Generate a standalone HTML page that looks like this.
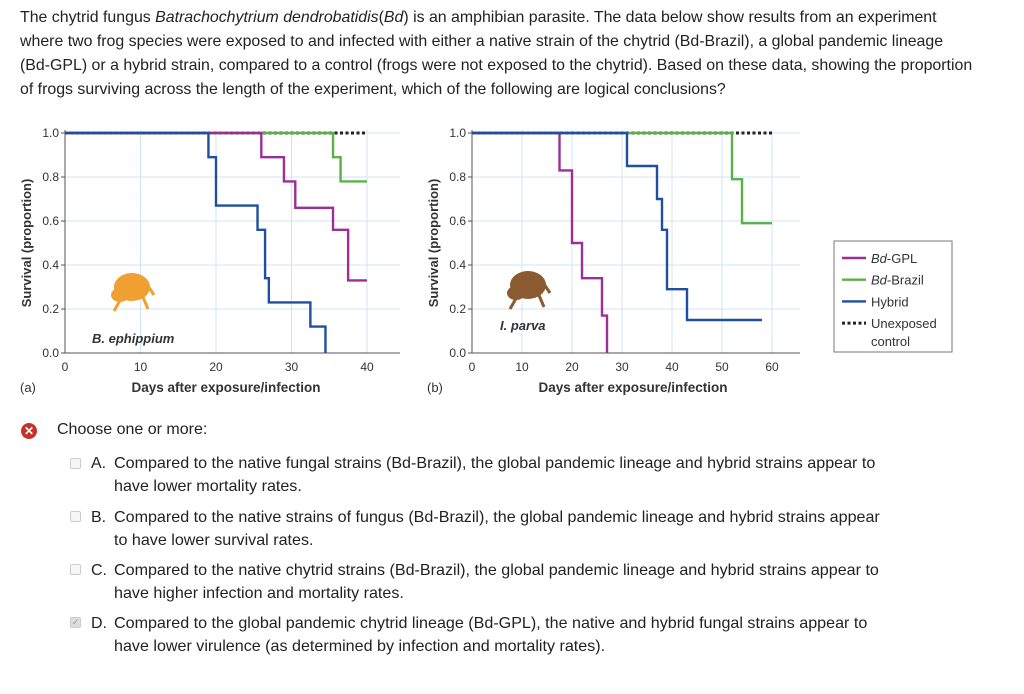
<!DOCTYPE html>
<html><head><meta charset="utf-8">
<style>
body{margin:0;width:1024px;height:694px;background:#fff;overflow:hidden;font-family:"Liberation Sans",sans-serif;color:#222;position:relative}
.t{position:absolute;left:20px;white-space:nowrap;font-size:15.9px;line-height:24px;color:#222}
.opt{position:absolute;left:114px;white-space:nowrap;font-size:16.1px;line-height:23px;color:#222}
.let{position:absolute;left:91px;font-size:16px;line-height:23px}
.cb{position:absolute;left:70px;width:9px;height:9px;border:1px solid #ccc;border-radius:2px;background:#f6f6f6}
svg text{font-family:"Liberation Sans",sans-serif}
</style></head><body>
<div>
<div class="t" style="top:6px">The chytrid fungus <i>Batrachochytrium dendrobatidis</i>(<i>Bd</i>) is an amphibian parasite. The data below show results from an experiment</div>
<div class="t" style="top:30px">where two frog species were exposed to and infected with either a native strain of the chytrid (Bd-Brazil), a global pandemic lineage</div>
<div class="t" style="top:54px">(Bd-GPL) or a hybrid strain, compared to a control (frogs were not exposed to the chytrid). Based on these data, showing the proportion</div>
<div class="t" style="top:78px">of frogs surviving across the length of the experiment, which of the following are logical conclusions?</div>
</div>
<svg id="chart" width="1024" height="410" style="position:absolute;left:0;top:0"></svg>
<div style="position:absolute;left:21px;top:423px;width:16px;height:16px;border-radius:50%;background:#c8312b;color:#fff;font-size:12px;line-height:16px;text-align:center;font-weight:bold">✕</div>
<div style="position:absolute;left:57px;top:421px;font-size:16px;color:#222">Choose one or more:</div>
<div class="cb" style="top:458px"></div>
<div class="let" style="top:452px">A.</div>
<div class="opt" style="top:452px">Compared to the native fungal strains (Bd-Brazil), the global pandemic lineage and hybrid strains appear to<br>have lower mortality rates.</div>
<div class="cb" style="top:511px"></div>
<div class="let" style="top:506px">B.</div>
<div class="opt" style="top:506px">Compared to the native strains of fungus (Bd-Brazil), the global pandemic lineage and hybrid strains appear<br>to have lower survival rates.</div>
<div class="cb" style="top:564px"></div>
<div class="let" style="top:559px">C.</div>
<div class="opt" style="top:559px">Compared to the native chytrid strains (Bd-Brazil), the global pandemic lineage and hybrid strains appear to<br>have higher infection and mortality rates.</div>
<div class="cb" style="top:617px;background:#ddd;color:#999;font-size:9px;line-height:9px;text-align:center">✓</div>
<div class="let" style="top:612px">D.</div>
<div class="opt" style="top:612px">Compared to the global pandemic chytrid lineage (Bd-GPL), the native and hybrid fungal strains appear to<br>have lower virulence (as determined by infection and mortality rates).</div>
<script>
// Panel (a) B. ephippium
const aGPLx=[0,26,29,30.5,35.5,37.5,40];
const aGPLy=[1,0.89,0.78,0.66,0.56,0.33,0.33];
const aBrazilx=[0,35.5,36.5,40];
const aBrazily=[1,0.89,0.78,0.78];
const aHybridx=[0,19,20,25.5,26.5,27,32.5,34.5];
const aHybridy=[1,0.89,0.67,0.56,0.34,0.23,0.12,0];
const aControlx=[0,40];
const aControly=[1,1];
const aXTicks=[0,10,20,30,40];
// Panel (b) I. parva
const bGPLx=[0,17.5,20,22,26,27];
const bGPLy=[1,0.83,0.5,0.34,0.17,0];
const bBrazilx=[0,52,54,60];
const bBrazily=[1,0.79,0.59,0.59];
const bHybridx=[0,31,37,38,39,43,58];
const bHybridy=[1,0.85,0.7,0.56,0.29,0.15,0.15];
const bControlx=[0,60];
const bControly=[1,1];
const bXTicks=[0,10,20,30,40,50,60];
const yTicks=[0,0.2,0.4,0.6,0.8,1.0];

const NS="http://www.w3.org/2000/svg";
const svg=document.getElementById('chart');
function mk(tag,attrs,parent){const e=document.createElementNS(NS,tag);for(const k in attrs)e.setAttribute(k,attrs[k]);(parent||svg).appendChild(e);return e;}
const COL={gpl:'#9b2f96',brazil:'#5bb04a',hybrid:'#1f4fa0',control:'#222'};

function panel(p){
  const g=mk('g',{});
  
  
  const X=v=>p.x0+v*p.sx, Y=v=>353-v*220;
  yTicks.forEach(t=>{if(t>0){const l=mk('line',{x1:p.x0,x2:p.right,y1:Y(t),y2:Y(t),stroke:'#cfe6f5','stroke-width':1},g);}});
  p.xt.forEach(t=>{if(t>0){const l=mk('line',{x1:X(t),x2:X(t),y1:130,y2:353,stroke:'#cfe6f5','stroke-width':1},g);}});
  mk('line',{x1:p.x0,x2:p.x0,y1:130,y2:353,stroke:'#555','stroke-width':1},g);
  mk('line',{x1:p.x0,x2:p.right,y1:353,y2:353,stroke:'#555','stroke-width':1},g);
  yTicks.forEach(t=>{mk('line',{x1:p.x0-4,x2:p.x0,y1:Y(t),y2:Y(t),stroke:'#555'},g);
    const tx=mk('text',{x:p.x0-6,y:Y(t)+4,'font-size':12,'text-anchor':'end',fill:'#333'},g);tx.textContent=t.toFixed(1);
    });
  p.xt.forEach(t=>{const tx=mk('text',{x:X(t),y:371,'font-size':12,'text-anchor':'middle',fill:'#333'},g);tx.textContent=t;
    });
  const yt=mk('text',{x:0,y:0,'font-size':13,'font-weight':'bold','text-anchor':'middle',fill:'#333',transform:`translate(${p.x0-34},243) rotate(-90)`},g);yt.textContent='Survival (proportion)';
  
  const xt=mk('text',{x:p.xtitle,y:392,'font-size':13.5,'font-weight':'bold','text-anchor':'middle',fill:'#333'},g);xt.textContent='Days after exposure/infection';
  
  const pl=mk('text',{x:p.x0-45,y:392,'font-size':13,fill:'#333'},g);pl.textContent=p.label;
  
  const f=mk('g',{},g);
  mk('ellipse',{cx:p.frog[0],cy:p.frog[1],rx:18,ry:14,fill:p.frog[2]},f);
  mk('ellipse',{cx:p.frog[0]-12,cy:p.frog[1]+8,rx:9,ry:7,fill:p.frog[2]},f);
  mk('path',{d:`M${p.frog[0]-10} ${p.frog[1]+10} l-8 14 M${p.frog[0]+10} ${p.frog[1]+8} l6 14 M${p.frog[0]+14} ${p.frog[1]-4} l8 12`,stroke:p.frog[2],'stroke-width':3,fill:'none'},f);
  const sp=mk('text',{x:p.sp[0],y:p.sp[1],'font-size':13,'font-weight':'bold','font-style':'italic',fill:'#333'},g);sp.textContent=p.species;
  
  function step(xs,ys){let d=`M${X(xs[0])} ${Y(ys[0])}`;for(let i=1;i<xs.length;i++){d+=` H${X(xs[i])} V${Y(ys[i])}`;}return d;}
  const c=mk('path',{d:step(p.c[0],p.c[1]),stroke:COL.control,'stroke-width':3,'stroke-dasharray':'3,2.5',fill:'none'},g);
  
  const s1=mk('path',{d:step(p.br[0],p.br[1]),stroke:COL.brazil,'stroke-width':2.4,fill:'none'},g);
  
  const s2=mk('path',{d:step(p.gpl[0],p.gpl[1]),stroke:COL.gpl,'stroke-width':2.4,fill:'none'},g);
  
  const s3=mk('path',{d:step(p.hy[0],p.hy[1]),stroke:COL.hybrid,'stroke-width':2.4,fill:'none'},g);
  
}
panel({name:'panel-a',x0:65,sx:7.55,right:400,xt:aXTicks,xtitle:226,label:'(a)',frog:[132,287,'#f0a030'],sp:[92,343],species:'B. ephippium',
  c:[aControlx,aControly],br:[aBrazilx,aBrazily],gpl:[aGPLx,aGPLy],hy:[aHybridx,aHybridy]});
panel({name:'panel-b',x0:472,sx:5,right:800,xt:bXTicks,xtitle:633,label:'(b)',frog:[528,285,'#8a5a30'],sp:[500,330],species:'I. parva',
  c:[bControlx,bControly],br:[bBrazilx,bBrazily],gpl:[bGPLx,bGPLy],hy:[bHybridx,bHybridy]});
const lg=mk('g',{});
mk('rect',{x:834,y:241,width:118,height:111,fill:'#fff',stroke:'#777'},lg);
const items=[['Bd-GPL',COL.gpl,0],['Bd-Brazil',COL.brazil,0],['Hybrid',COL.hybrid,0],['Unexposed',COL.control,1]];
items.forEach((it,i)=>{const y=258+i*21.7;
  const e=mk('g',{},lg);
  mk('line',{x1:842,x2:866,y1:y,y2:y,stroke:it[1],'stroke-width':it[2]?3:2.4,'stroke-dasharray':it[2]?'3,2.5':'none'},e);
  const t=mk('text',{x:871,y:y+5,'font-size':13,fill:'#333'},e);
  if(i<2){const ts=mk('tspan',{'font-style':'italic'},t);ts.textContent='Bd';const t2=mk('tspan',{},t);t2.textContent=it[0].slice(2);}else t.textContent=it[0];
});
const lc=mk('text',{x:871,y:346,'font-size':13,fill:'#333'},lg);lc.textContent='control';
</script>
</body></html>
